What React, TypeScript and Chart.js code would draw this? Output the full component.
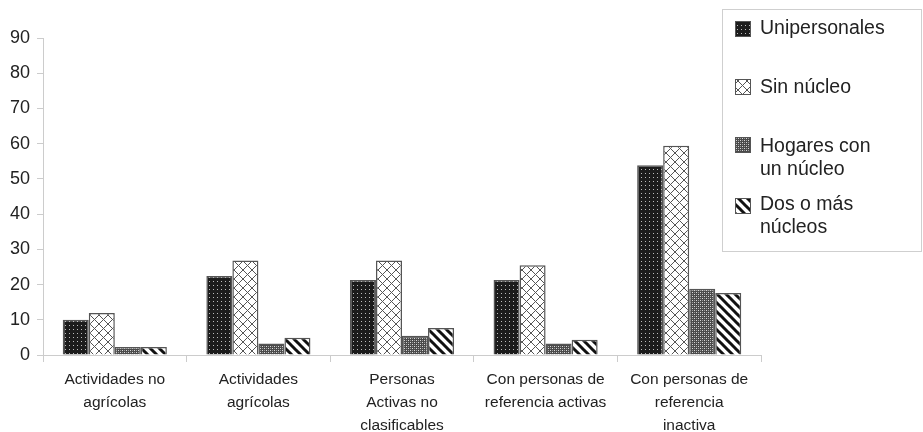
import React, { useEffect, useRef } from "react";
import { Chart, registerables } from "chart.js";

Chart.register(...registerables);

const categories: string[][] = [
  ["Actividades no", "agrícolas"],
  ["Actividades", "agrícolas"],
  ["Personas", "Activas no", "clasificables"],
  ["Con personas de", "referencia activas"],
  ["Con personas de", "referencia", "inactiva"],
];

const seriesNames: string[] = ["Unipersonales", "Sin núcleo", "Hogares con un núcleo", "Dos o más núcleos"];
const legendLines: string[][] = [["Unipersonales"], ["Sin núcleo"], ["Hogares con", "un núcleo"], ["Dos o más", "núcleos"]];

const unipersonales: number[] = [10, 22.4, 21.3, 21.3, 53.9];
const sinNucleo: number[] = [11.9, 26.8, 26.8, 25.5, 59.4];
const unNucleo: number[] = [2.3, 3.3, 5.5, 3.3, 18.8];
const dosNucleos: number[] = [2.3, 4.9, 7.7, 4.3, 17.6];

const yTicks: number[] = [0, 10, 20, 30, 40, 50, 60, 70, 80, 90];

const FONT = '"Liberation Sans", Arial, Helvetica, sans-serif';

function makePattern(kind: number): CanvasPattern | string {
  const c = document.createElement("canvas");
  const ctx = c.getContext("2d")!;
  if (kind === 0) {
    c.width = 4; c.height = 4;
    ctx.fillStyle = "#1c1c1c"; ctx.fillRect(0, 0, 4, 4);
    ctx.fillStyle = "#bdbdbd"; ctx.fillRect(1, 1, 1, 1);
  } else if (kind === 1) {
    const s = 9;
    c.width = s; c.height = s;
    ctx.fillStyle = "#ffffff"; ctx.fillRect(0, 0, s, s);
    ctx.strokeStyle = "#555"; ctx.lineWidth = 1;
    for (const k of [-s, 0, s]) {
      ctx.beginPath(); ctx.moveTo(0, k); ctx.lineTo(s, s + k); ctx.stroke();
      ctx.beginPath(); ctx.moveTo(0, s + k); ctx.lineTo(s, k); ctx.stroke();
    }
  } else if (kind === 2) {
    c.width = 4; c.height = 4;
    ctx.fillStyle = "#4a4a4a"; ctx.fillRect(0, 0, 4, 4);
    ctx.fillStyle = "#d8d8d8";
    ctx.fillRect(0, 0, 1, 1); ctx.fillRect(2, 2, 1, 1);
    ctx.fillStyle = "#999";
    ctx.fillRect(2, 0, 1, 1); ctx.fillRect(0, 2, 1, 1);
  } else {
    const s = 9;
    c.width = s; c.height = s;
    ctx.fillStyle = "#ffffff"; ctx.fillRect(0, 0, s, s);
    ctx.strokeStyle = "#111"; ctx.lineWidth = 3;
    for (const k of [-s, 0, s]) {
      ctx.beginPath(); ctx.moveTo(-1, k - 1); ctx.lineTo(s + 1, s + k + 1); ctx.stroke();
    }
  }
  return ctx.createPattern(c, "repeat")!;
}

export default function App() {
  const ref = useRef<HTMLCanvasElement>(null);
  useEffect(() => {
    const patterns = [0, 1, 2, 3].map(makePattern);
    const data = [unipersonales, sinNucleo, unNucleo, dosNucleos];
    const legendPlugin = {
      id: "customLegend",
      afterDraw(chart: any) {
        const ctx = chart.ctx as CanvasRenderingContext2D;
        ctx.save();
        ctx.strokeStyle = "#cfcfcf";
        ctx.lineWidth = 1;
        ctx.strokeRect(722.5, 9.5, 199, 242);
        const swatchY = [21, 79, 137, 198];
        const textY = [29, 88, 147, 205];
        ctx.font = `19.5px ${FONT}`;
        ctx.textBaseline = "middle";
        legendLines.forEach((lines, i) => {
          ctx.fillStyle = patterns[i] as any;
          ctx.fillRect(735, swatchY[i], 16, 16);
          ctx.strokeStyle = "#555";
          ctx.lineWidth = 1;
          ctx.strokeRect(735.5, swatchY[i] + 0.5, 15, 15);
          ctx.fillStyle = "#222";
          lines.forEach((t, j) => ctx.fillText(t, 760, textY[i] + j * 22.5));
        });
        ctx.restore();
      },
    };
    const chart = new Chart(ref.current!, {
      type: "bar",
      data: {
        labels: categories,
        datasets: seriesNames.map((name, i) => ({
          label: name,
          data: data[i],
          backgroundColor: patterns[i] as any,
          borderColor: "#555",
          borderWidth: 1.5,
          categoryPercentage: 0.725,
          barPercentage: 1,
        })),
      },
      options: {
        animation: false,
        responsive: false,
        maintainAspectRatio: false,
        layout: { padding: { top: 38, right: 162, bottom: 0, left: 0 } },
        plugins: { legend: { display: false }, tooltip: { enabled: false } },
        scales: {
          x: {
            type: "category",
            offset: true,
            grid: { offset: true, drawOnChartArea: false, drawTicks: true, tickLength: 7, color: "#cccccc" },
            border: { color: "#cccccc" },
            ticks: {
              maxRotation: 0,
              autoSkip: false,
              padding: 6,
              color: "#222",
              font: { family: FONT, size: 15.5, lineHeight: 1.48 },
            },
            afterFit(scale: any) { scale.height = 77; },
          },
          y: {
            min: 0,
            max: 90,
            afterBuildTicks(scale: any) { scale.ticks = yTicks.map((v) => ({ value: v })); },
            grid: { drawOnChartArea: false, drawTicks: true, tickLength: 6, color: "#cccccc" },
            border: { color: "#cccccc" },
            ticks: { padding: 7, color: "#222", font: { family: FONT, size: 18 } },
            afterFit(scale: any) { scale.width = 43; },
          },
        },
      },
      plugins: [legendPlugin],
    });
    return () => chart.destroy();
  }, []);
  return (
    <div style={{ position: "absolute", left: 0, top: 0, width: 923, height: 432, background: "#fff" }}>
      <canvas ref={ref} width={923} height={432} style={{ width: 923, height: 432 }} />
    </div>
  );
}
